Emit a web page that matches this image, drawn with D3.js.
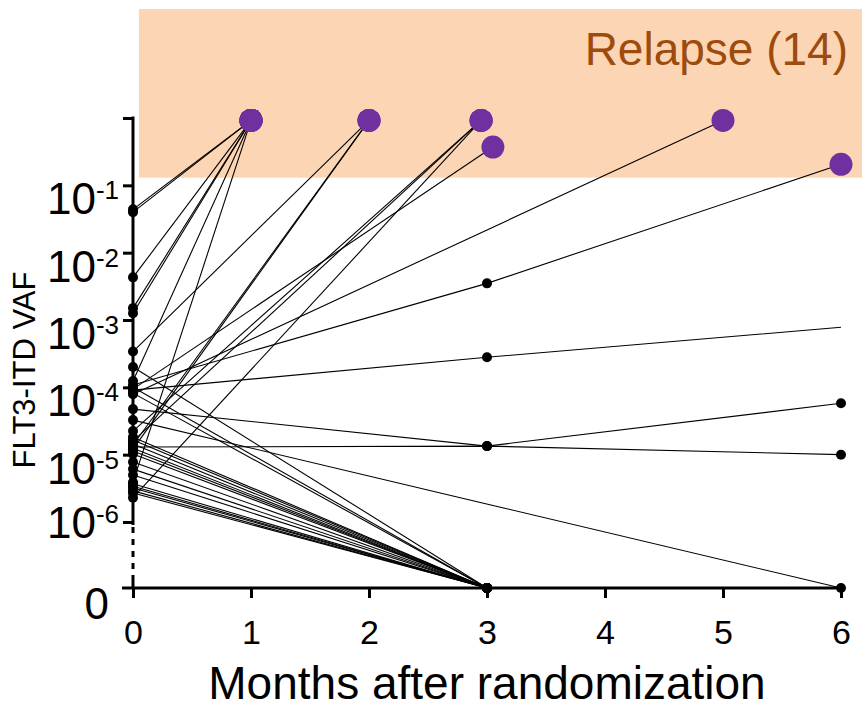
<!DOCTYPE html>
<html>
<head>
<meta charset="utf-8">
<script src="https://cdn.jsdelivr.net/npm/d3@7"></script>
<style>
  body { margin: 0; background: #fff; }
  svg { display: block; font-family: "Liberation Sans", Arial, sans-serif; }
</style>
</head>
<body>
<div class="chart"></div>
<script>
// visit months for each patient track (0 = randomization)
var trackMonths = [
  [0, 1], [0, 1], [0, 1], [0, 1], [0, 1], [0, 1], [0, 1],
  [0, 2], [0, 2], [0, 2],
  [0, 2.95], [0, 2.95], [0, 2.95],
  [0, 3.05],
  [0, 5],
  [0, 3, 6],
  [0, 3, 6], [0, 3, 6], [0, 3, 6],
  [0, 6],
  [0, 3], [0, 3], [0, 3], [0, 3], [0, 3], [0, 3], [0, 3], [0, 3], [0, 3],
  [0, 3], [0, 3], [0, 3], [0, 3], [0, 3], [0, 3], [0, 3], [0, 3]
];

// FLT3-ITD VAF at each visit (0 = undetectable)
var trackVAF = [
  [0.044, 0.92], [0.040, 0.92], [0.0043, 0.92], [0.0015, 0.92], [0.00126, 0.92], [1.24e-4, 0.92], [3.9e-6, 0.92],
  [3.4e-4, 0.92], [1.39e-5, 0.92], [1.21e-5, 0.92],
  [2.24e-5, 0.92], [1.59e-5, 0.92], [2.3e-6, 0.92],
  [9.4e-5, 0.37],
  [7.9e-5, 0.92],
  [1.08e-4, 3.5e-3, 0.205],
  [9.1e-5, 2.8e-4, 7.8e-4], [4.75e-5, 1.34e-5, 5.8e-5], [1.30e-5, 1.34e-5, 1.0e-5],
  [3.26e-5, 0],
  [2.0e-4, 0], [1.0e-4, 0], [8.2e-5, 0], [1.82e-5, 0], [1.65e-5, 0], [1.44e-5, 0], [1.25e-5, 0], [1.13e-5, 0], [1.02e-5, 0],
  [7.8e-6, 0], [6.1e-6, 0], [5.0e-6, 0], [3.7e-6, 0], [3.4e-6, 0], [3.2e-6, 0], [2.9e-6, 0], [2.7e-6, 0]
];

// how the last visit of a track is marked
var trackEnd = [
  "relapse", "relapse", "relapse", "relapse", "relapse", "relapse", "relapse",
  "relapse", "relapse", "relapse",
  "relapse", "relapse", "relapse",
  "relapse",
  "relapse",
  "relapse",
  "open", "dot", "dot",
  "dot",
  "dot", "dot", "dot", "dot", "dot", "dot", "dot", "dot", "dot",
  "dot", "dot", "dot", "dot", "dot", "dot", "dot", "dot"
];

var MONTH_TICKS = [0, 1, 2, 3, 4, 5, 6];
var VAF_TICKS = [1e-6, 1e-5, 1e-4, 1e-3, 1e-2, 1e-1, 1];
var VAF_EXPONENTS = ["-6", "-5", "-4", "-3", "-2", "-1", ""];
var RELAPSE_VAF = 0.13;
var RELAPSE_LABEL = "Relapse (14)";

var W = 862, H = 708;

var svg = d3.select(".chart").append("svg")
  .attr("width", W)
  .attr("height", H);

var x = d3.scaleLinear().domain([0, 6]).range([133, 841]);
var yLog = d3.scaleLog().domain([1e-6, 1]).range([522, 118]);
var Y_ZERO = 588;
function y(v) { return v === 0 ? Y_ZERO : yLog(v); }

// relapse band
svg.append("rect")
  .attr("x", x(0.05))
  .attr("y", 9)
  .attr("width", W - x(0.05))
  .attr("height", y(RELAPSE_VAF) - 9)
  .style("fill", "#fcd5b5");

svg.append("text")
  .attr("x", 848)
  .attr("y", 65)
  .style("text-anchor", "end")
  .style("font-size", "46px")
  .style("fill", "#9e4b0e")
  .text(RELAPSE_LABEL);

var tracks = trackMonths.map(function (months, i) {
  return months.map(function (m, j) {
    return { month: m, vaf: trackVAF[i][j], last: j === months.length - 1, end: trackEnd[i] };
  });
});

var line = d3.line()
  .x(function (d) { return x(d.month); })
  .y(function (d) { return y(d.vaf); });

svg.selectAll(".track")
  .data(tracks)
  .enter().append("path")
  .attr("class", "track")
  .attr("d", line)
  .style("fill", "none")
  .style("stroke", "#000")
  .style("stroke-width", 1.1);

// X axis
var xAxis = d3.axisBottom(x)
  .tickValues(MONTH_TICKS)
  .tickFormat(d3.format("d"))
  .tickSize(10)
  .tickPadding(22);
var gx = svg.append("g")
  .attr("class", "x axis")
  .attr("transform", "translate(0," + Y_ZERO + ")")
  .call(xAxis);
gx.select(".domain").remove();
gx.selectAll("line").style("stroke-width", 3);
gx.selectAll("text").style("font-size", "34px").style("font-family", "inherit").style("fill", "#000");

svg.append("line")
  .attr("x1", 122).attr("x2", x(6) + 3)
  .attr("y1", Y_ZERO).attr("y2", Y_ZERO)
  .style("stroke", "#000").style("stroke-width", 3);

// Y axis
var yAxis = d3.axisLeft(yLog).tickValues(VAF_TICKS).tickSize(10).tickFormat("");
var gy = svg.append("g")
  .attr("class", "y axis")
  .attr("transform", "translate(" + x(0) + ",0)")
  .call(yAxis);
gy.select(".domain").remove();
gy.selectAll("line").style("stroke-width", 3);

svg.append("line")
  .attr("x1", x(0)).attr("x2", x(0))
  .attr("y1", yLog(1) - 1.5).attr("y2", yLog(1e-6) + 3)
  .style("stroke", "#000").style("stroke-width", 3);
svg.append("line")
  .attr("x1", x(0)).attr("x2", x(0))
  .attr("y1", yLog(1e-6) + 5).attr("y2", Y_ZERO - 14)
  .style("stroke", "#000").style("stroke-width", 3)
  .style("stroke-dasharray", "6,6");
svg.append("line")
  .attr("x1", x(0)).attr("x2", x(0))
  .attr("y1", Y_ZERO - 13).attr("y2", Y_ZERO)
  .style("stroke", "#000").style("stroke-width", 3);

var labels = svg.selectAll(".ylabel")
  .data(VAF_TICKS.filter(function (d, i) { return VAF_EXPONENTS[i] !== ""; }))
  .enter().append("text")
  .attr("class", "ylabel")
  .attr("x", 119)
  .attr("y", function (d) { return yLog(d) + (d === 1e-6 ? 16 : 29); })
  .style("text-anchor", "end");
labels.append("tspan")
  .style("font-size", "44px")
  .text("10");
labels.append("tspan")
  .attr("dy", -15)
  .style("font-size", "26px")
  .text(function (d) { return VAF_EXPONENTS[VAF_TICKS.indexOf(d)]; });

svg.append("text")
  .attr("x", 109)
  .attr("y", Y_ZERO + 31)
  .style("text-anchor", "end")
  .style("font-size", "44px")
  .text("0");

svg.append("text")
  .attr("transform", "translate(35,370) rotate(-90)")
  .style("text-anchor", "middle")
  .style("font-size", "31px")
  .text("FLT3-ITD VAF");

svg.append("text")
  .attr("x", x(3))
  .attr("y", 699)
  .style("text-anchor", "middle")
  .style("font-size", "46px")
  .text("Months after randomization");

// points
var points = d3.merge(tracks).filter(function (d) {
  return !(d.last && d.end === "open");
});

svg.selectAll(".dot")
  .data(points.filter(function (d) { return !(d.last && d.end === "relapse"); }))
  .enter().append("circle")
  .attr("class", "dot")
  .attr("cx", function (d) { return x(d.month); })
  .attr("cy", function (d) { return y(d.vaf); })
  .attr("r", 5)
  .style("fill", "#000");

svg.selectAll(".relapse")
  .data(points.filter(function (d) { return d.last && d.end === "relapse"; }))
  .enter().append("circle")
  .attr("class", "relapse")
  .attr("cx", function (d) { return x(d.month); })
  .attr("cy", function (d) { return y(d.vaf); })
  .attr("r", 11.5)
  .style("fill", "#7030a0");
</script>
</body>
</html>
